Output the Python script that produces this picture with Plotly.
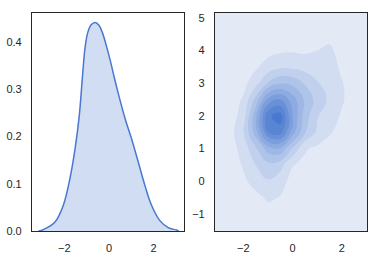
import plotly.graph_objects as go

# ---- left panel: univariate KDE ----
kde_x = [-3.16, -2.94, -2.42, -2.05, -1.75, -1.52, -1.33, -1.19, -1.07, -0.95,
         -0.80, -0.62, -0.45, -0.30, -0.12, 0.05, 0.25, 0.42, 0.72, 1.01,
         1.31, 1.61, 1.91, 2.28, 2.65, 3.03, 3.12]
kde_y = [0.0, 0.003, 0.019, 0.054, 0.111, 0.174, 0.245, 0.326, 0.389, 0.420,
         0.436, 0.441, 0.435, 0.420, 0.392, 0.362, 0.322, 0.290, 0.238, 0.195,
         0.146, 0.096, 0.054, 0.022, 0.007, 0.002, 0.0]

# ---- right panel: bivariate density levels ----
grid_x = [-3.0, -2.5, -2.0, -1.5, -1.0, -0.5, 0.0, 0.5, 1.0, 1.5, 2.0, 2.5, 3.0]
grid_y = [-1.5, -1.0, -0.5, 0.0, 0.5, 1.0, 1.5, 2.0, 2.5, 3.0, 3.5, 4.0, 4.5, 5.0]
density = [
    [0, 0, 0, 0, 0, 0, 0, 0, 0, 0, 0, 0, 0],
    [0, 0, 0, 0, 0.1, 0.1, 0, 0, 0, 0, 0, 0, 0],
    [0, 0, 0, 0.2, 0.65, 0.45, 0.05, 0, 0, 0, 0, 0, 0],
    [0, 0, 0.3, 0.9, 1.4, 0.9, 0.15, 0.05, 0, 0, 0, 0, 0],
    [0, 0, 0.6, 1.5, 2.2, 1.9, 0.55, 0.3, 0.1, 0, 0, 0, 0],
    [0, 0.1, 0.9, 2.3, 4.0, 4.3, 2.4, 0.6, 0.3, 0.1, 0, 0, 0],
    [0, 0.2, 1.4, 4.0, 7.5, 8.0, 5.0, 2.6, 1.3, 0.6, 0.2, 0, 0],
    [0, 0.1, 0.9, 4.2, 8.3, 9.0, 5.5, 3.0, 1.6, 0.9, 0.4, 0, 0],
    [0, 0.1, 0.6, 2.8, 5.8, 6.5, 5.0, 3.3, 2.1, 1.3, 0.6, 0.1, 0],
    [0, 0, 0.2, 1.1, 2.6, 3.4, 3.2, 2.4, 1.6, 1.0, 0.55, 0.1, 0],
    [0, 0, 0.05, 0.35, 0.9, 1.3, 1.3, 1.1, 0.95, 0.85, 0.35, 0, 0],
    [0, 0, 0, 0, 0.2, 0.35, 0.4, 0.35, 0.5, 0.65, 0.2, 0, 0],
    [0, 0, 0, 0, 0, 0, 0, 0, 0.1, 0.25, 0, 0, 0],
    [0, 0, 0, 0, 0, 0, 0, 0, 0, 0, 0, 0, 0],
]

left_xticks = [-2, 0, 2]
left_yticks = [0.0, 0.1, 0.2, 0.3, 0.4]
right_xticks = [-2, 0, 2]
right_yticks = [-1, 0, 1, 2, 3, 4, 5]

LINE = "#4878CF"
BG_LOW = "#E3EAF6"
INK = "#262626"
W, H = 380, 257


def fmt(v, dec=0):
    s = f"{v:.{dec}f}"
    return s.replace("-", "\u2212")


fig = go.Figure()
fig.add_trace(go.Scatter(
    x=kde_x, y=kde_y, mode="lines", line=dict(color=LINE, width=1.5, shape="spline", smoothing=1.0),
    fill="tozeroy", fillcolor="rgba(72,120,207,0.25)", xaxis="x", yaxis="y", showlegend=False,
    hoverinfo="skip"))

fig.add_trace(go.Contour(
    x=grid_x, y=grid_y, z=density, xaxis="x2", yaxis="y2",
    colorscale=[[0, BG_LOW], [1, LINE]], zmin=0, zmax=9,
    contours=dict(start=0.5, end=8.5, size=1, coloring="fill", showlines=False),
    line=dict(width=0, smoothing=1.3), showscale=False, hoverinfo="skip"))

axis_common = dict(showline=True, linecolor=INK, linewidth=1.2, mirror=True, ticks="",
                   showgrid=False, zeroline=False,
                   tickfont=dict(family="Liberation Sans, Arial", size=11, color=INK),
                   ticklabelstandoff=7)

fig.update_layout(
    width=W, height=H, margin=dict(l=0, r=0, t=13, b=26),
    paper_bgcolor="white", plot_bgcolor="white",
    xaxis=dict(domain=[32 / W, 184 / W], range=[-3.45, 3.36], tickvals=left_xticks,
               ticktext=[fmt(v) for v in left_xticks], anchor="y", **axis_common),
    yaxis=dict(domain=[0, 1], range=[0, 0.461], tickvals=left_yticks,
               ticktext=[fmt(v, 1) for v in left_yticks], anchor="x", **axis_common),
    xaxis2=dict(domain=[215 / W, 367 / W], range=[-3.15, 3.02], tickvals=right_xticks,
                ticktext=[fmt(v) for v in right_xticks], anchor="y2", **axis_common),
    yaxis2=dict(domain=[0, 1], range=[-1.52, 5.15], tickvals=right_yticks,
                ticktext=[fmt(v) for v in right_yticks], anchor="x2", **axis_common),
    shapes=[dict(type="rect", xref="x2 domain", yref="y2 domain", x0=0, x1=1, y0=0, y1=1,
                 fillcolor=BG_LOW, line=dict(width=0), layer="below")],
)

fig.write_html("out.html")
